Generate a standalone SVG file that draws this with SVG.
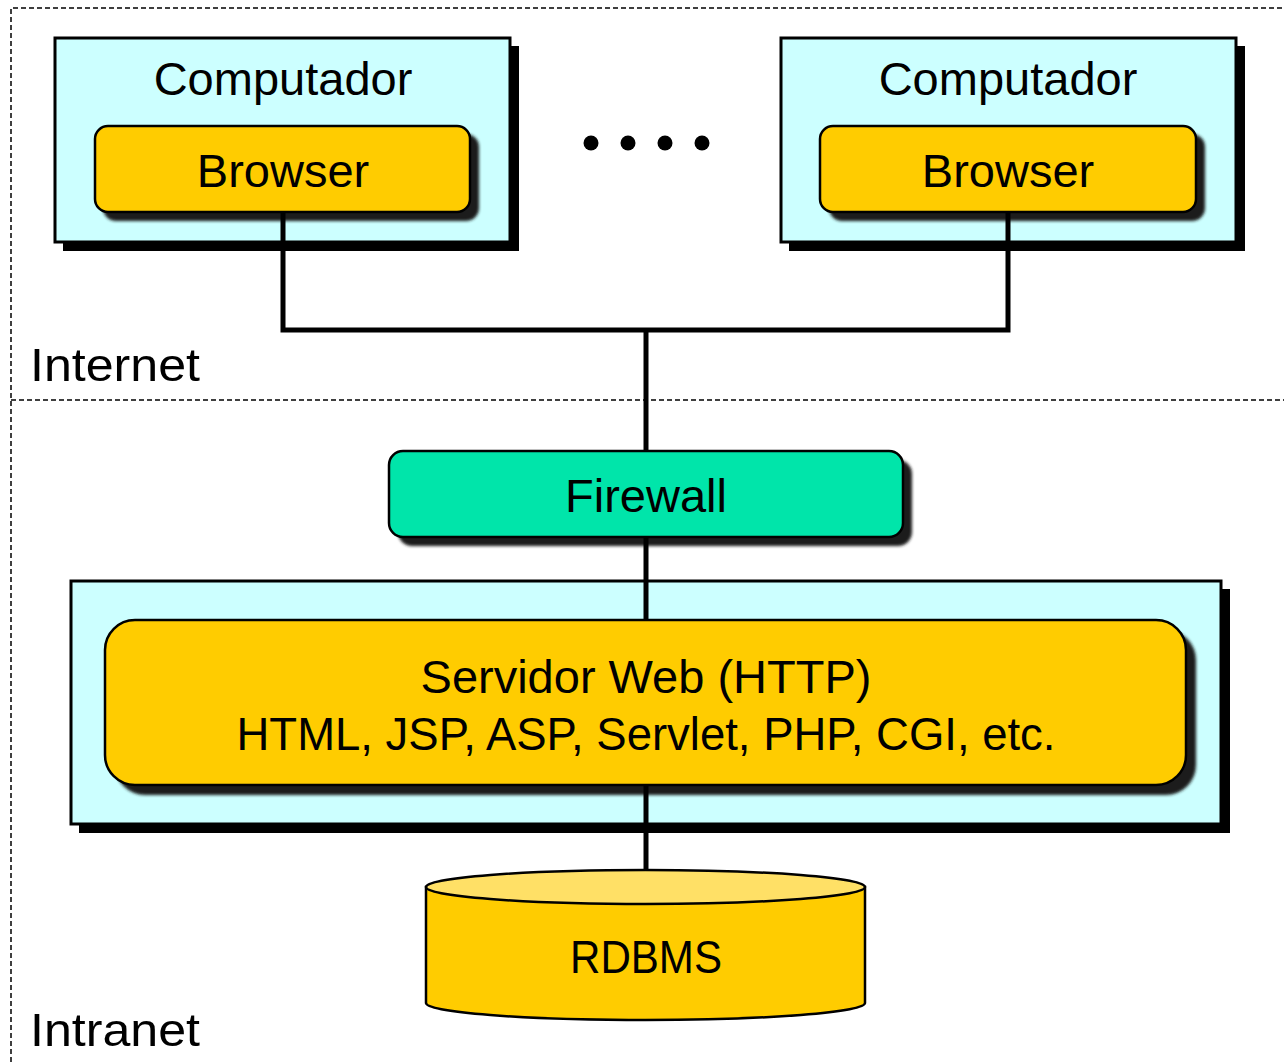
<svg xmlns="http://www.w3.org/2000/svg" width="1284" height="1062" viewBox="0 0 1284 1062">
<defs>
<filter id="sh" x="-10%" y="-10%" width="130%" height="140%">
<feGaussianBlur stdDeviation="1.5"/>
</filter>
</defs>
<style>
.t{font-family:"Liberation Sans",Arial,sans-serif;font-size:47px;fill:#000;text-anchor:middle}
.lbl{font-family:"Liberation Sans",Arial,sans-serif;font-size:47px;fill:#000}
.box{fill:#CCFFFF;stroke:#000;stroke-width:3}
.bsh{fill:#000}
.rsh{fill:#1f1f1f;filter:url(#sh)}
.yel{fill:#FFCC00;stroke:#000;stroke-width:2.5}
.fw{fill:#00E5AA;stroke:#000;stroke-width:2.5}
.con{fill:none;stroke:#000;stroke-width:5}
.dash{fill:none;stroke:#000;stroke-width:1.5;stroke-dasharray:5,3}
</style>
<rect width="1284" height="1062" fill="#fff"/>
<g id="zones">
<path class="dash" d="M11,1062 V8 H1284"/>
<line class="dash" x1="11" y1="400" x2="1284" y2="400"/>
<text class="lbl" x="30" y="381" textLength="170" lengthAdjust="spacingAndGlyphs">Internet</text>
<text class="lbl" x="30" y="1046" textLength="170" lengthAdjust="spacingAndGlyphs">Intranet</text>
</g>
<g id="computer1">
<rect class="bsh" x="63" y="46" width="456" height="205"/>
<rect class="box" x="55" y="38" width="455" height="204"/>
<text class="t" x="283" y="95">Computador</text>
</g>
<g id="browser1">
<rect class="rsh" x="103" y="134" width="376" height="87" rx="13"/>
<rect class="yel" x="95" y="126" width="375" height="86" rx="13"/>
<text class="t" x="283" y="187">Browser</text>
</g>
<g id="dots">
<circle cx="591" cy="143" r="7.5"/>
<circle cx="628" cy="143" r="7.5"/>
<circle cx="665" cy="143" r="7.5"/>
<circle cx="702" cy="143" r="7.5"/>
</g>
<g id="computer2">
<rect class="bsh" x="789" y="46" width="456" height="205"/>
<rect class="box" x="781" y="38" width="455" height="204"/>
<text class="t" x="1008" y="95">Computador</text>
</g>
<g id="browser2">
<rect class="rsh" x="829" y="134" width="376" height="87" rx="13"/>
<rect class="yel" x="820" y="126" width="376" height="86" rx="13"/>
<text class="t" x="1008" y="187">Browser</text>
</g>
<g id="firewall">
<rect class="rsh" x="398" y="460" width="514" height="86" rx="14"/>
<rect class="fw" x="389" y="451" width="514" height="86" rx="14"/>
<text class="t" x="646" y="512">Firewall</text>
</g>
<g id="server">
<rect class="bsh" x="79" y="589" width="1151" height="244"/>
<rect class="box" x="71" y="581" width="1150" height="243"/>
<rect class="rsh" x="115" y="630" width="1081" height="165" rx="30"/>
<rect class="yel" x="105" y="620" width="1081" height="165" rx="30"/>
<text class="t" x="646" y="693">Servidor Web (HTTP)</text>
<text class="t" x="646" y="750" textLength="819" lengthAdjust="spacingAndGlyphs">HTML, JSP, ASP, Servlet, PHP, CGI, etc.</text>
</g>
<g id="connectors">
<path class="con" d="M283,212 V330 H1008 V212"/>
<line class="con" x1="646" y1="330" x2="646" y2="451"/>
<line class="con" x1="646" y1="537" x2="646" y2="620"/>
<line class="con" x1="646" y1="785" x2="646" y2="870"/>
</g>
<g id="rdbms">
<path d="M426,887 V1003 A219.5,17 0 0 0 865,1003 V887 Z" fill="#FFCC00" stroke="#000" stroke-width="2.5"/>
<ellipse cx="645.5" cy="887" rx="219.5" ry="17" fill="#FFE066" stroke="#000" stroke-width="2.5"/>
<text class="t" x="646" y="973" textLength="152" lengthAdjust="spacingAndGlyphs">RDBMS</text>
</g>
</svg>
